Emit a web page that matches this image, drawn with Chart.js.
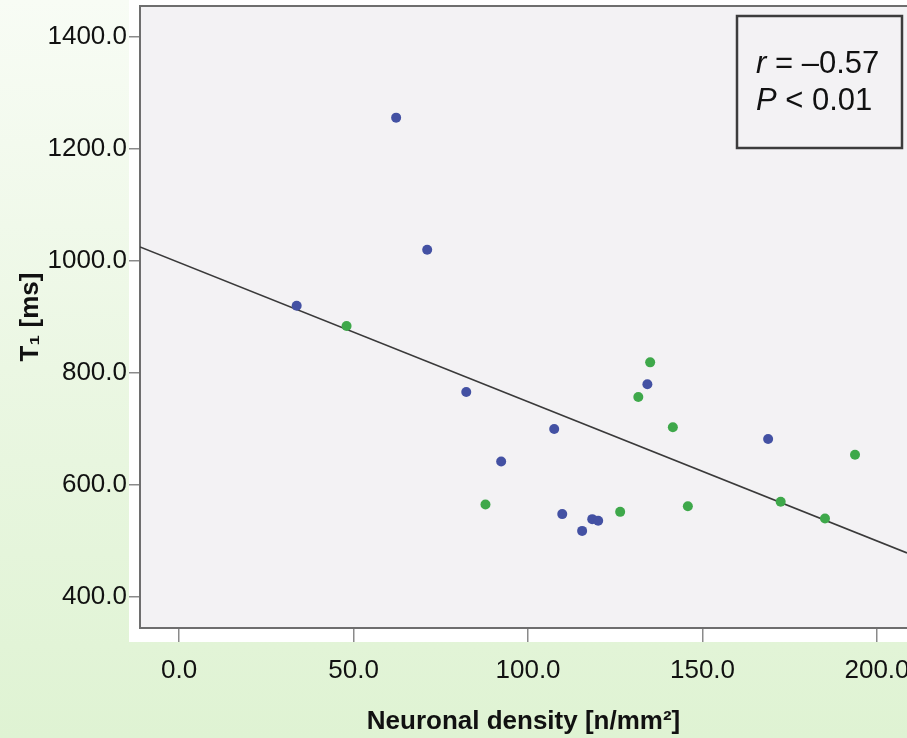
<!DOCTYPE html>
<html>
<head>
<meta charset="utf-8">
<script src="https://cdn.jsdelivr.net/npm/chart.js@4"></script>
<style>
  html, body { margin: 0; padding: 0; }
  body {
    width: 907px; height: 738px; overflow: hidden;
    background: linear-gradient(to bottom, #f8fcf5 0%, #ebf7e3 50%, #dff3d3 100%);
  }
</style>
</head>
<body>
<canvas id="myChart" width="907" height="738"></canvas>
<script>
// group 1 (blue) and group 2 (green): neuronal density vs T1
const blueDensity = [33.7, 62.2, 71.1, 82.3, 92.3, 107.5, 109.8, 115.5, 118.4, 120.1, 134.2, 168.8];
const blueT1      = [920, 1256, 1020, 766, 642, 700, 548, 518, 539, 536, 780, 682];
const greenDensity = [48.0, 87.8, 126.4, 131.6, 135.0, 141.5, 145.8, 172.4, 185.1, 193.7];
const greenT1      = [884, 565, 552, 757, 819, 703, 562, 570, 540, 654];

// least squares fit line
const fitSlope = -2.486;
const fitIntercept = 997.2;

const xTicks = [0, 50, 100, 150, 200];
const yTicks = [400, 600, 800, 1000, 1200, 1400];
const xMin = -11.2, xMax = 208.6;
const yMin = 344.6, yMax = 1455.4;

const statLines = [["r", " = \u20130.57"], ["P", " < 0.01"]];

const FONT = "'Liberation Sans', Arial, sans-serif";

function points(xs, ys) {
    return xs.map((x, i) => ({ x: x, y: ys[i] }));
}

const fitX = [xMin, xMax];
const fitLine = fitX.map(x => ({ x: x, y: fitIntercept + fitSlope * x }));

// keep the plot box fixed: no extra room for overhanging labels
function fixScale(size) {
    return s => {
        if (s.isHorizontal()) s.height = size; else s.width = size;
        s.paddingTop = 0;
        s.paddingBottom = 0;
        s.paddingLeft = 0;
        s.paddingRight = 0;
    };
}

const framePlugin = {
    id: "frame",
    beforeDraw(chart) {
        const ctx = chart.ctx;
        const a = chart.chartArea;
        ctx.save();
        ctx.fillStyle = "#ffffff";
        ctx.fillRect(a.left - 11, 0, chart.width - a.left + 11, a.bottom + 14);
        ctx.fillStyle = "#f3f2f4";
        ctx.fillRect(a.left, a.top, chart.width - a.left, a.bottom - a.top);
        ctx.restore();
    },
    beforeDatasetsDraw(chart) {
        const ctx = chart.ctx;
        const a = chart.chartArea;
        ctx.save();
        ctx.strokeStyle = "#6e6e6e";
        ctx.lineWidth = 2;
        ctx.beginPath();
        ctx.moveTo(chart.width, a.top);
        ctx.lineTo(a.left, a.top);
        ctx.lineTo(a.left, a.bottom);
        ctx.lineTo(chart.width, a.bottom);
        ctx.stroke();
        ctx.restore();
    },
    afterDraw(chart) {
        // r / P box in the upper right corner
        const ctx = chart.ctx;
        const a = chart.chartArea;
        const bx = a.right - 170, by = a.top + 10, bw = 165, bh = 132;
        ctx.save();
        ctx.fillStyle = "#f3f2f4";
        ctx.fillRect(bx, by, bw, bh);
        ctx.strokeStyle = "#3c3c3c";
        ctx.lineWidth = 2.5;
        ctx.strokeRect(bx, by, bw, bh);
        ctx.fillStyle = "#111111";
        ctx.textBaseline = "alphabetic";
        statLines.forEach((ln, i) => {
            const y = by + 57 + i * 37;
            ctx.font = "italic 31px " + FONT;
            ctx.fillText(ln[0], bx + 19, y);
            const w = ctx.measureText(ln[0]).width;
            ctx.font = "31px " + FONT;
            ctx.fillText(ln[1], bx + 19 + w, y);
        });
        ctx.restore();
    }
};

new Chart("myChart", {
    type: "scatter",
    data: {
        datasets: [{
            data: points(blueDensity, blueT1),
            backgroundColor: "#4351a3",
            borderWidth: 0,
            pointRadius: 5
        }, {
            data: points(greenDensity, greenT1),
            backgroundColor: "#3ea84a",
            borderWidth: 0,
            pointRadius: 5
        }, {
            data: fitLine,
            showLine: true,
            pointRadius: 0,
            borderColor: "#3a3a3a",
            borderWidth: 1.6
        }]
    },
    options: {
        responsive: false,
        animation: false,
        devicePixelRatio: 1,
        layout: { autoPadding: false, padding: { top: 6, right: 0, left: 0, bottom: 0 } },
        plugins: { legend: { display: false }, tooltip: { enabled: false } },
        scales: {
            x: {
                type: "linear",
                min: xMin,
                max: xMax,
                afterBuildTicks: s => { s.ticks = xTicks.map(v => ({ value: v })); },
                afterFit: fixScale(110),
                ticks: {
                    callback: v => v.toFixed(1),
                    font: { size: 26, family: FONT },
                    color: "#111111",
                    padding: 13,
                    maxRotation: 0,
                    autoSkip: false
                },
                grid: { drawOnChartArea: false, drawTicks: true, tickLength: 14, color: "#8a8a8a", lineWidth: 1.5 },
                border: { display: false },
                title: {
                    display: true,
                    text: "Neuronal density [n/mm\u00b2]",
                    color: "#111111",
                    font: { size: 26, weight: "bold", family: FONT },
                    padding: { top: 0, bottom: 1 }
                }
            },
            y: {
                type: "linear",
                min: yMin,
                max: yMax,
                afterBuildTicks: s => { s.ticks = yTicks.map(v => ({ value: v })); },
                afterFit: fixScale(140),
                ticks: {
                    callback: v => v.toFixed(1),
                    font: { size: 26, family: FONT },
                    color: "#111111",
                    padding: 2
                },
                grid: { drawOnChartArea: false, drawTicks: true, tickLength: 11, color: "#8a8a8a", lineWidth: 1.5 },
                border: { display: false },
                title: {
                    display: true,
                    text: "T\u2081 [ms]",
                    color: "#111111",
                    font: { size: 26, weight: "bold", family: FONT },
                    padding: { top: 15, bottom: 0 }
                }
            }
        }
    },
    plugins: [framePlugin]
});
</script>
</body>
</html>
